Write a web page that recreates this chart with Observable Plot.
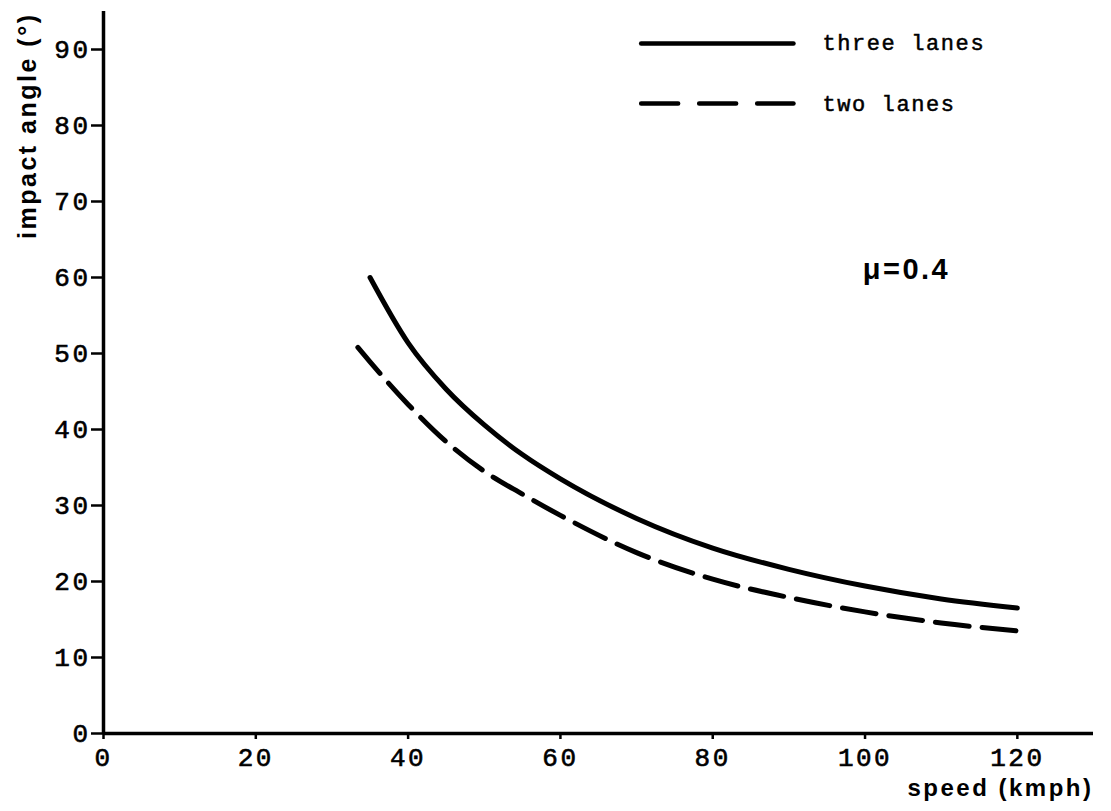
<!DOCTYPE html>
<html><head><meta charset="utf-8">
<script src="https://cdn.jsdelivr.net/npm/d3@7"></script>
<script src="https://cdn.jsdelivr.net/npm/@observablehq/plot@0.6"></script>
<style>
body{margin:0;background:#fff}
.mono text{letter-spacing:1.6px;stroke:#000;stroke-width:0.5px}
g[aria-label="x-axis tick label"] text, g[aria-label="y-axis tick label"] text{letter-spacing:2.5px;stroke:#000;stroke-width:0.6px}
.boldlab text{letter-spacing:2.5px}
</style>
</head><body><div id="chart"></div>
<script>
// Data
const speedThree = [35, 40, 45, 50, 55, 60, 70, 80, 90, 100, 110, 120];
const angleThree = [60, 51.4, 45.3, 40.6, 36.7, 33.5, 28.3, 24.4, 21.6, 19.4, 17.7, 16.5];
const speedTwo = [33.4, 35, 40, 45, 50, 55, 60, 70, 80, 90, 100, 110, 120];
const angleTwo = [50.8, 48.9, 43.3, 38.4, 34.5, 31.5, 28.7, 23.8, 20.3, 17.9, 16.0, 14.55, 13.5];
const seriesNames = ["three lanes", "two lanes"];
const xTicks = [0, 20, 40, 60, 80, 100, 120];
const yTicks = [0, 10, 20, 30, 40, 50, 60, 70, 80, 90];
const xLabel = "speed (kmph)";
const yLabel = "impact angle (°)";
const frictionLabel = "μ=0.4";

const three = speedThree.map((s, i) => ({speed: s, angle: angleThree[i]}));
const two = speedTwo.map((s, i) => ({speed: s, angle: angleTwo[i]}));

// legend placement (data coordinates)
const legX = [70.6, 90.6], legTextX = 94.4, legY = [90.8, 82.9];
const legend = seriesNames.map((n, i) => ({name: n, y: legY[i]}));
const legLine = i => legX.map(x => ({x, y: legY[i]}));

const mono = "Liberation Mono, Courier New, monospace";
const sans = "Liberation Sans, Arial, Helvetica, sans-serif";

const chart = Plot.plot({
  width: 1111, height: 811,
  marginLeft: 103, marginRight: 18, marginTop: 11, marginBottom: 78,
  x: {domain: [0, 130]},
  y: {domain: [0, 95]},
  style: {background: "#fff", color: "#000"},
  marks: [
    Plot.axisX({ticks: xTicks, tickSize: 6, tickPadding: 8, strokeWidth: 2.5, fontSize: 26, fontFamily: mono, label: null}),
    Plot.axisY({ticks: yTicks, tickSize: 12, tickPadding: 1, strokeWidth: 2.5, fontSize: 26, fontFamily: mono, label: null}),
    Plot.ruleX([0], {strokeWidth: 3.5}),
    Plot.ruleY([0], {strokeWidth: 3.5}),
    Plot.line(three, {x: "speed", y: "angle", curve: "monotone-x", strokeWidth: 5, strokeLinecap: "round"}),
    Plot.line(two, {x: "speed", y: "angle", curve: "monotone-x", strokeWidth: 5, strokeLinecap: "round", strokeDasharray: "34,13"}),
    Plot.line(legLine(0), {x: "x", y: "y", strokeWidth: 4.5, strokeLinecap: "round"}),
    Plot.line(legLine(1), {x: "x", y: "y", strokeWidth: 4.5, strokeLinecap: "round", strokeDasharray: "37,21"}),
    Plot.text(legend, {x: () => legTextX, y: "y", text: "name", textAnchor: "start", fontSize: 22, fontFamily: mono, className: "mono"}),
    Plot.text([frictionLabel], {x: () => 99.7, y: () => 61, textAnchor: "start", fontSize: 29, fontWeight: "bold", fontFamily: sans, className: "boldlab"}),
    Plot.text([xLabel], {frameAnchor: "bottom-right", textAnchor: "end", dy: 62, fontSize: 24, fontWeight: "bold", fontFamily: sans, className: "boldlab"}),
    Plot.text([yLabel], {frameAnchor: "top-left", textAnchor: "end", rotate: -90, dx: -85, dy: 1, fontSize: 25, fontWeight: "bold", fontFamily: sans, className: "boldlab"})
  ]
});
document.getElementById("chart").append(chart);
</script>
</body></html>
